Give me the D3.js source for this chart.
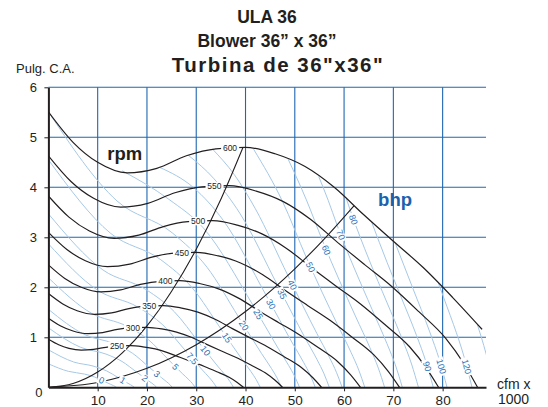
<!DOCTYPE html>
<html>
<head>
<meta charset="utf-8">
<script src="https://cdn.jsdelivr.net/npm/d3@7"></script>
<style>
  body { margin: 0; background: #fff; }
  svg { display: block; }
</style>
</head>
<body>
<svg id="chart" width="548" height="407"></svg>
<script>
// Axis ticks
const cfmTicks = [10, 20, 30, 40, 50, 60, 70, 80];
const pressureTicks = [1, 2, 3, 4, 5, 6];

// Fan curves, [cfm x 1000, Pulg. C.A.]
const rpmValues = [250, 300, 350, 400, 450, 500, 550, 600];
const rpm250 = [[0,0.96],[2.08,0.85],[4.17,0.78],[6.67,0.745],[9.17,0.76],[11.67,0.80],[14.17,0.83],[16.67,0.833],[19.17,0.81],[21.67,0.767],[24.17,0.694],[26.67,0.60],[29.17,0.507],[31.67,0.417],[34.17,0.3125],[36.67,0.20],[38.33,0.097],[39.58,0]];
const rpm300 = [[0,1.38],[2.5,1.225],[5,1.125],[8,1.073],[11,1.095],[14,1.158],[17,1.193],[20,1.2],[23,1.168],[26,1.105],[29,1.0],[32,0.863],[35,0.73],[38,0.6],[41,0.45],[44,0.29],[46,0.14],[47.5,0]];
const rpm350 = [[0,1.875],[2.92,1.667],[5.83,1.531],[9.33,1.46],[12.83,1.49],[16.33,1.575],[19.83,1.623],[23.33,1.633],[26.83,1.589],[30.33,1.504],[33.83,1.361],[37.33,1.174],[40.83,0.994],[44.33,0.817],[47.83,0.6125],[51.33,0.395],[53.67,0.191],[55.42,0]];
const rpm400 = [[0,2.449],[3.33,2.178],[6.67,2.0],[10.67,1.907],[14.67,1.947],[18.67,2.058],[22.67,2.12],[26.67,2.133],[30.67,2.076],[34.67,1.964],[38.67,1.778],[42.67,1.533],[46.67,1.298],[50.67,1.067],[54.67,0.8],[58.67,0.516],[61.33,0.249],[63.33,0]];
const rpm450 = [[0,3.099],[3.75,2.756],[7.5,2.531],[12,2.413],[16.5,2.464],[21,2.604],[25.5,2.683],[30,2.7],[34.5,2.627],[39,2.486],[43.5,2.25],[48,1.941],[52.5,1.643],[57,1.35],[61.5,1.0125],[66,0.6525],[69,0.315],[71.25,0]];
const rpm500 = [[0,3.826],[4.17,3.403],[8.33,3.125],[13.33,2.979],[18.33,3.042],[23.33,3.215],[28.33,3.313],[33.33,3.333],[38.33,3.243],[43.33,3.069],[48.33,2.778],[53.33,2.396],[58.33,2.028],[63.33,1.667],[68.33,1.25],[73.33,0.806],[76.67,0.389],[79.17,0]];
const rpm550 = [[0,4.63],[4.58,4.117],[9.17,3.781],[14.67,3.605],[20.17,3.68],[25.67,3.89],[31.17,4.008],[36.67,4.033],[42.17,3.924],[47.67,3.714],[53.17,3.361],[58.67,2.899],[64.17,2.454],[69.67,2.017],[75.17,1.5125],[80.67,0.975],[84.33,0.471],[87.08,0]];
const rpm600 = [[0,5.51],[5,4.9],[10,4.5],[16,4.29],[22,4.38],[28,4.63],[34,4.77],[40,4.8],[46,4.67],[52,4.42],[58,4.0],[64,3.45],[70,2.92],[76,2.4],[82,1.8],[88,1.16]];

// System curves through the origin
const steepSystem = [[0,0],[5,0.077],[10,0.307],[15,0.69],[20,1.228],[25,1.92],[30,2.76],[35,3.76],[39.5,4.8]];
const shallowSystem = [[0,0],[10,0.095],[20,0.379],[30,0.852],[40,1.515],[50,2.37],[56,2.97],[62,3.63]];

// Constant bhp lines
const bhpLabels = ['0', '1', '2', '3', '5', '7.5', '10', '15', '20', '25', '30', '35', '40', '50', '60', '70', '80', '90', '100', '120', ''];
const bhp0 = [[0,0.47],[4.07,0.319],[7.35,0.264],[9.41,0.205],[11.28,0.12],[12.65,0.058],[13.23,0.032],[13.57,0.016],[13.83,0]];
const bhp1 = [[0,0.75],[5.13,0.506],[9.26,0.42],[11.86,0.326],[14.22,0.19],[15.93,0.092],[16.67,0.051],[17.1,0.025],[17.43,0]];
const bhp2 = [[0,1.19],[6.46,0.803],[11.67,0.665],[14.94,0.517],[17.91,0.303],[20.08,0.146],[21.0,0.082],[21.55,0.04],[21.96,0]];
const bhp3 = [[0,1.56],[7.4,1.052],[13.35,0.872],[17.11,0.678],[20.5,0.397],[22.98,0.191],[24.04,0.107],[24.66,0.052],[25.13,0]];
const bhp5 = [[0,2.19],[8.77,1.479],[15.83,1.226],[20.28,0.953],[24.31,0.558],[27.25,0.268],[28.51,0.151],[29.24,0.073],[29.8,0]];
const bhp7_5 = [[0,2.87],[10.04,1.938],[18.12,1.606],[23.22,1.248],[27.83,0.731],[31.19,0.352],[32.63,0.197],[33.47,0.096],[34.11,0]];
const bhp10 = [[0,3.47],[11.05,2.348],[19.95,1.946],[25.55,1.512],[30.63,0.886],[34.33,0.426],[35.92,0.239],[36.84,0.116],[37.55,0]];
const bhp15 = [[0,4.55],[12.65,3.077],[22.83,2.55],[29.25,1.982],[35.06,1.161],[39.3,0.558],[41.11,0.313],[42.17,0.153],[42.98,0]];
const bhp20 = [[0,5.51],[13.92,3.727],[25.13,3.089],[32.19,2.401],[38.59,1.406],[43.25,0.676],[45.25,0.379],[46.42,0.185],[47.3,0]];
const bhp25 = [[15,4.33],[24.44,3.76],[31.42,3.19],[41.57,1.632],[46.59,0.785],[48.74,0.44],[50.0,0.214],[50.96,0]];
const bhp30 = [[22.56,4.4],[29.43,3.995],[35.46,3.342],[44.17,1.842],[49.51,0.886],[51.8,0.497],[53.14,0.242],[54.15,0]];
const bhp35 = [[28.4,4.64],[33.62,4.169],[38.9,3.472],[46.5,2.042],[52.12,0.982],[54.53,0.551],[55.94,0.268],[57.0,0]];
const bhp40 = [[33.34,4.76],[37.68,4.259],[42.0,3.571],[48.62,2.232],[54.49,1.074],[57.01,0.602],[58.48,0.293],[59.6,0]];
const bhp50 = [[41.65,4.76],[47.49,3.721],[52.37,2.59],[58.7,1.246],[61.41,0.699],[63.0,0.34],[64.2,0]];
const bhp60 = [[48.66,4.56],[52.35,3.748],[55.65,2.925],[62.38,1.407],[65.26,0.789],[66.95,0.384],[68.22,0]];
const bhp70 = [[54.84,4.22],[56.77,3.741],[58.59,3.241],[65.67,1.559],[68.7,0.874],[70.48,0.426],[71.82,0]];
const bhp80 = [[60.43,3.78],[61.25,3.543],[65.16,2.53],[68.66,1.705],[71.83,0.956],[73.69,0.466],[75.09,0]];
const bhp90 = [[65.57,3.31],[68.71,2.502],[71.41,1.844],[74.71,1.034],[76.64,0.504],[78.1,0]];
const bhp100 = [[70.36,2.89],[72.12,2.444],[73.96,1.978],[77.38,1.109],[79.37,0.54],[80.89,0]];
const bhp120 = [[79.12,2.09],[80.9,1.609],[82.22,1.252],[84.35,0.61],[85.96,0]];
const bhp140 = [[87.0,1.27],[88.8,0.676],[90.49,0]];

const rpmCurves = [rpm250, rpm300, rpm350, rpm400, rpm450, rpm500, rpm550, rpm600];
const bhpCurves = [bhp0, bhp1, bhp2, bhp3, bhp5, bhp7_5, bhp10, bhp15, bhp20, bhp25, bhp30,
  bhp35, bhp40, bhp50, bhp60, bhp70, bhp80, bhp90, bhp100, bhp120, bhp140];

const FONT = "'Liberation Sans', Arial, Helvetica, sans-serif";
const INK = '#231f20';
const GRID = '#1f67b0';
const BHP_LINE = '#a6c8e6';
const BHP_TEXT = '#2a6fb6';

const svg = d3.select('#chart').attr('font-family', FONT);

const x = d3.scaleLinear().domain([0, 88.8]).range([48.4, 486]);
const y = d3.scaleLinear().domain([0, 6]).range([387.3, 87.3]);

svg.append('rect').attr('width', 548).attr('height', 407).attr('fill', '#fff');

svg.append('defs').append('clipPath').attr('id', 'plot-clip')
  .append('rect')
  .attr('x', x(0)).attr('y', y(6))
  .attr('width', x(88.8) - x(0)).attr('height', y(0) - y(6));

// Grid
const grid = svg.append('g').attr('class', 'grid');
grid.selectAll('line.v').data(cfmTicks).join('line')
  .attr('class', 'v')
  .attr('x1', d => x(d)).attr('x2', d => x(d))
  .attr('y1', y(0)).attr('y2', y(6))
  .attr('stroke', GRID).attr('stroke-width', 1.1);
grid.selectAll('line.h').data(pressureTicks).join('line')
  .attr('class', 'h')
  .attr('x1', x(0)).attr('x2', x(88.8))
  .attr('y1', d => y(d)).attr('y2', d => y(d))
  .attr('stroke', GRID).attr('stroke-width', 1.1);

const line = d3.line()
  .x(d => x(d[0]))
  .y(d => y(d[1]))
  .curve(d3.curveMonotoneX);

const plot = svg.append('g').attr('clip-path', 'url(#plot-clip)');

const bhpPaths = plot.selectAll('path.bhp').data(bhpCurves).join('path')
  .attr('class', 'bhp')
  .attr('d', line)
  .attr('fill', 'none')
  .attr('stroke', BHP_LINE)
  .attr('stroke-width', 1);

const rpmPaths = plot.selectAll('path.rpm').data(rpmCurves).join('path')
  .attr('class', 'rpm')
  .attr('d', line)
  .attr('fill', 'none')
  .attr('stroke', INK)
  .attr('stroke-width', 1.2);

const steepPath = plot.append('path').datum(steepSystem)
  .attr('d', line).attr('fill', 'none').attr('stroke', INK).attr('stroke-width', 1.1);
const shallowPath = plot.append('path').datum(shallowSystem)
  .attr('d', line).attr('fill', 'none').attr('stroke', INK).attr('stroke-width', 1.1);

// Axes
const yAxis = d3.axisLeft(y).tickValues(pressureTicks).tickFormat(d3.format('d'))
  .tickSize(4).tickSizeOuter(0).tickPadding(7.5);
svg.append('g')
  .attr('transform', `translate(${x(0)},0)`)
  .call(yAxis)
  .attr('font-family', FONT).attr('font-size', 13)
  .call(g => g.select('.domain').attr('stroke', INK).attr('stroke-width', 2))
  .call(g => g.selectAll('.tick line').attr('stroke', INK))
  .call(g => g.selectAll('.tick text').attr('fill', INK));

const xAxis = d3.axisBottom(x).tickValues(cfmTicks).tickFormat(d3.format('d'))
  .tickSize(4).tickSizeOuter(0).tickPadding(4.5);
svg.append('g')
  .attr('transform', `translate(0,${y(0)})`)
  .call(xAxis)
  .attr('font-family', FONT).attr('font-size', 13.5)
  .call(g => g.select('.domain').attr('stroke', INK).attr('stroke-width', 2))
  .call(g => g.selectAll('.tick line').attr('stroke', INK))
  .call(g => g.selectAll('.tick text').attr('fill', INK));

svg.append('text')
  .attr('x', x(0) - 9.5).attr('y', y(0) + 10)
  .attr('text-anchor', 'middle').attr('font-size', 13).attr('fill', INK)
  .text('0');

svg.append('text').attr('x', 497).attr('y', 388.5)
  .attr('font-size', 14).attr('fill', INK).text('cfm x');
svg.append('text').attr('x', 498).attr('y', 404)
  .attr('font-size', 14).attr('fill', INK).text('1000');

svg.append('text').attr('x', 16).attr('y', 73)
  .attr('font-size', 13).attr('fill', INK).text('Pulg. C.A.');

// Titles
svg.append('text').attr('x', 267).attr('y', 23)
  .attr('text-anchor', 'middle').attr('font-size', 17.5).attr('font-weight', 'bold')
  .attr('fill', INK).text('ULA 36');
svg.append('text').attr('x', 267).attr('y', 47)
  .attr('text-anchor', 'middle').attr('font-size', 17.5).attr('font-weight', 'bold')
  .attr('fill', INK).text('Blower 36\u201D x 36\u201D');
svg.append('text').attr('x', 278).attr('y', 71.5)
  .attr('text-anchor', 'middle').attr('font-size', 20.5).attr('font-weight', 'bold')
  .attr('letter-spacing', 1.5).attr('fill', INK).text('Turbina de 36"x36"');

svg.append('text').attr('x', x(11.95)).attr('y', y(4.55))
  .attr('font-size', 18.5).attr('font-weight', 'bold').attr('fill', INK).text('rpm');
svg.append('text').attr('x', x(66.9)).attr('y', y(3.62))
  .attr('font-size', 18.5).attr('font-weight', 'bold').attr('fill', '#1a62ad').text('bhp');

// Curve labels, placed on the drawn paths
const labels = svg.append('g');

function samplePath(node) {
  const len = node.getTotalLength();
  const pts = [];
  for (let l = 0; l <= len; l += 0.5) {
    const p = node.getPointAtLength(l);
    pts.push([p.x, p.y, l]);
  }
  return pts;
}

function yOn(poly, px) {
  for (let i = 1; i < poly.length; i++) {
    const a = poly[i - 1], b = poly[i];
    if (a[0] !== b[0] && (a[0] - px) * (b[0] - px) <= 0) {
      return a[1] + (b[1] - a[1]) * (px - a[0]) / (b[0] - a[0]);
    }
  }
  return null;
}

function addLabel(px, py, angle, text, color, size) {
  const g = labels.append('g').attr('transform', `translate(${px},${py}) rotate(${angle})`);
  const bg = g.append('rect').attr('fill', '#fff');
  const t = g.append('text')
    .attr('text-anchor', 'middle').attr('dy', '0.36em')
    .attr('font-size', size).attr('fill', color).text(text);
  const bb = t.node().getBBox();
  bg.attr('x', bb.x - 1.8).attr('y', bb.y + 0.8)
    .attr('width', bb.width + 3.6).attr('height', bb.height - 1.6);
}

const steepPts = samplePath(steepPath.node());
rpmPaths.each(function (d, i) {
  const pts = samplePath(this);
  let hit = pts.find(p => {
    const sy = yOn(steepPts, p[0]);
    return sy !== null && sy <= p[1];
  });
  if (!hit) {
    const end = steepPts[steepPts.length - 1];
    hit = pts.reduce((a, b) => Math.abs(b[0] - end[0]) < Math.abs(a[0] - end[0]) ? b : a);
  }
  const p = this.getPointAtLength(Math.max(0, hit[2] - 13));
  addLabel(p.x, p.y, 0, rpmValues[i], INK, 8.5);
});

const shallowPts = samplePath(shallowPath.node());
const lowLimit = y(0) - 7;
bhpPaths.each(function (d, i) {
  if (!bhpLabels[i]) return;
  const pts = samplePath(this);
  const hit = pts.find(p => {
    const sy = yOn(shallowPts, p[0]);
    return sy !== null && p[1] >= sy;
  });
  let l = hit ? hit[2] + 10 : pts.find(p => p[1] >= y(0.42))[2];
  let p = this.getPointAtLength(l);
  while (p.y > lowLimit && l > 0) {
    l -= 0.5;
    p = this.getPointAtLength(l);
  }
  const p0 = this.getPointAtLength(Math.max(0, l - 1.5));
  const p1 = this.getPointAtLength(l + 1.5);
  const ang = Math.atan2(p1.y - p0.y, p1.x - p0.x) * 180 / Math.PI;
  addLabel(p.x, p.y, ang, bhpLabels[i], BHP_TEXT, 9);
});
</script>
</body>
</html>
